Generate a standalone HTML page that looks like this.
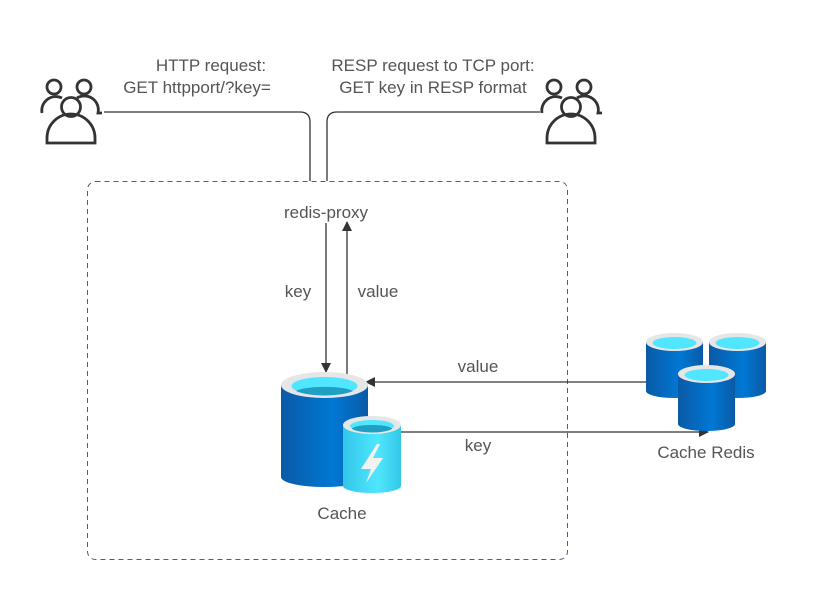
<!DOCTYPE html>
<html><head><meta charset="utf-8"><style>
html,body{margin:0;padding:0;background:#fff;}
svg{display:block;}
text{font-family:"Liberation Sans",sans-serif;fill:#555;font-size:17px;}
</style></head><body>
<svg width="836" height="601" viewBox="0 0 836 601" xmlns="http://www.w3.org/2000/svg">
<defs>
<linearGradient id="bl" x1="0" x2="1" y1="0" y2="0">
<stop offset="0" stop-color="#0a5aa6"/><stop offset="0.6" stop-color="#0078d4"/><stop offset="1" stop-color="#0a5aa6"/>
</linearGradient>
<linearGradient id="cy" x1="0" x2="1" y1="0" y2="0">
<stop offset="0" stop-color="#32c7e8"/><stop offset="0.6" stop-color="#50e6ff"/><stop offset="1" stop-color="#32c7e8"/>
</linearGradient>
<marker id="ar" markerWidth="10" markerHeight="10" refX="9" refY="5" orient="auto" markerUnits="userSpaceOnUse">
<path d="M0,0 L10,5 L0,10 z" fill="#333"/></marker>
<g id="users" fill="none" stroke="#333" stroke-width="2.8">
<circle cx="14" cy="8" r="7"/><circle cx="44" cy="8" r="7"/>
<path d="M2,34 A14,14 0 0 1 22,19"/><path d="M37,19 A14,14 0 0 1 58,34 L62,34"/>
<circle cx="31" cy="28" r="9.5"/>
<path d="M7,64 L7,59 A24,24 0 0 1 55,59 L55,64 Z"/>
</g>
</defs>

<rect x="87.5" y="181.5" width="480" height="378" rx="8" fill="none" stroke="#4a5f7f" stroke-width="1" stroke-dasharray="5,4"/>

<use href="#users" x="40" y="79"/>
<use href="#users" x="540" y="79"/>

<path d="M104,112 L300,112 Q310,112 310,122 L310,181" fill="none" stroke="#333" stroke-width="1.3"/>
<path d="M327,181 L327,122 Q327,112 337,112 L540,112" fill="none" stroke="#333" stroke-width="1.3"/>

<text x="211" y="71" text-anchor="middle">HTTP request:</text>
<text x="197" y="93" text-anchor="middle">GET httpport/?key=</text>
<text x="433" y="71" text-anchor="middle">RESP request to TCP port:</text>
<text x="433" y="93" text-anchor="middle">GET key in RESP format</text>

<text x="326" y="218" text-anchor="middle">redis-proxy</text>
<line x1="326" y1="223" x2="326" y2="372" stroke="#333" stroke-width="1.3" marker-end="url(#ar)"/>
<line x1="347" y1="375" x2="347" y2="222" stroke="#333" stroke-width="1.3" marker-end="url(#ar)"/>
<text x="298" y="297" text-anchor="middle">key</text>
<text x="378" y="297" text-anchor="middle">value</text>

<line x1="646" y1="382" x2="366" y2="382" stroke="#333" stroke-width="1.3" marker-end="url(#ar)"/>
<line x1="401" y1="432" x2="708" y2="432" stroke="#333" stroke-width="1.3" marker-end="url(#ar)"/>
<text x="478" y="372" text-anchor="middle">value</text>
<text x="478" y="451" text-anchor="middle">key</text>

<path d="M281,385 L281,477 A43.5,10 0 0 0 368,477 L368,385 Z" fill="url(#bl)"/>
<ellipse cx="324.5" cy="385" rx="43.5" ry="13" fill="#e6e6e6"/>
<ellipse cx="324.5" cy="386" rx="33" ry="9" fill="#50e6ff"/>
<path d="M296,391 A30,6 0 0 1 353,391 A33,9 0 0 1 296,391Z" fill="#1f9fc4"/>
<path d="M343,425 L343,486 A29,7 0 0 0 401,486 L401,425 Z" fill="url(#cy)"/>
<ellipse cx="372" cy="425" rx="29" ry="9" fill="#e6e6e6"/>
<ellipse cx="372" cy="426" rx="22" ry="6" fill="#50e6ff"/>
<path d="M352,429 A20,4 0 0 1 392,429 A22,6 0 0 1 352,429Z" fill="#1f9fc4"/>
<path d="M377,444 L361,469 L371,469 L366,483 L383,458 L373,458 L380,444 Z" fill="#f2f2f2"/>
<text x="342" y="519" text-anchor="middle">Cache</text>

<g>
<path d="M646,342 L646,391 A28.5,7 0 0 0 703,391 L703,342 Z" fill="url(#bl)"/>
<ellipse cx="674.5" cy="342" rx="28.5" ry="9" fill="#e6e6e6"/>
<ellipse cx="674.5" cy="343" rx="22" ry="6" fill="#50e6ff"/>
<path d="M709,342 L709,391 A28.5,7 0 0 0 766,391 L766,342 Z" fill="url(#bl)"/>
<ellipse cx="737.5" cy="342" rx="28.5" ry="9" fill="#e6e6e6"/>
<ellipse cx="737.5" cy="343" rx="22" ry="6" fill="#50e6ff"/>
<path d="M678,374 L678,424 A28.5,7 0 0 0 735,424 L735,374 Z" fill="url(#bl)"/>
<ellipse cx="706.5" cy="374" rx="28.5" ry="9" fill="#e6e6e6"/>
<ellipse cx="706.5" cy="375" rx="22" ry="6" fill="#50e6ff"/>
</g>
<text x="706" y="458" text-anchor="middle">Cache Redis</text>
</svg>
</body></html>
